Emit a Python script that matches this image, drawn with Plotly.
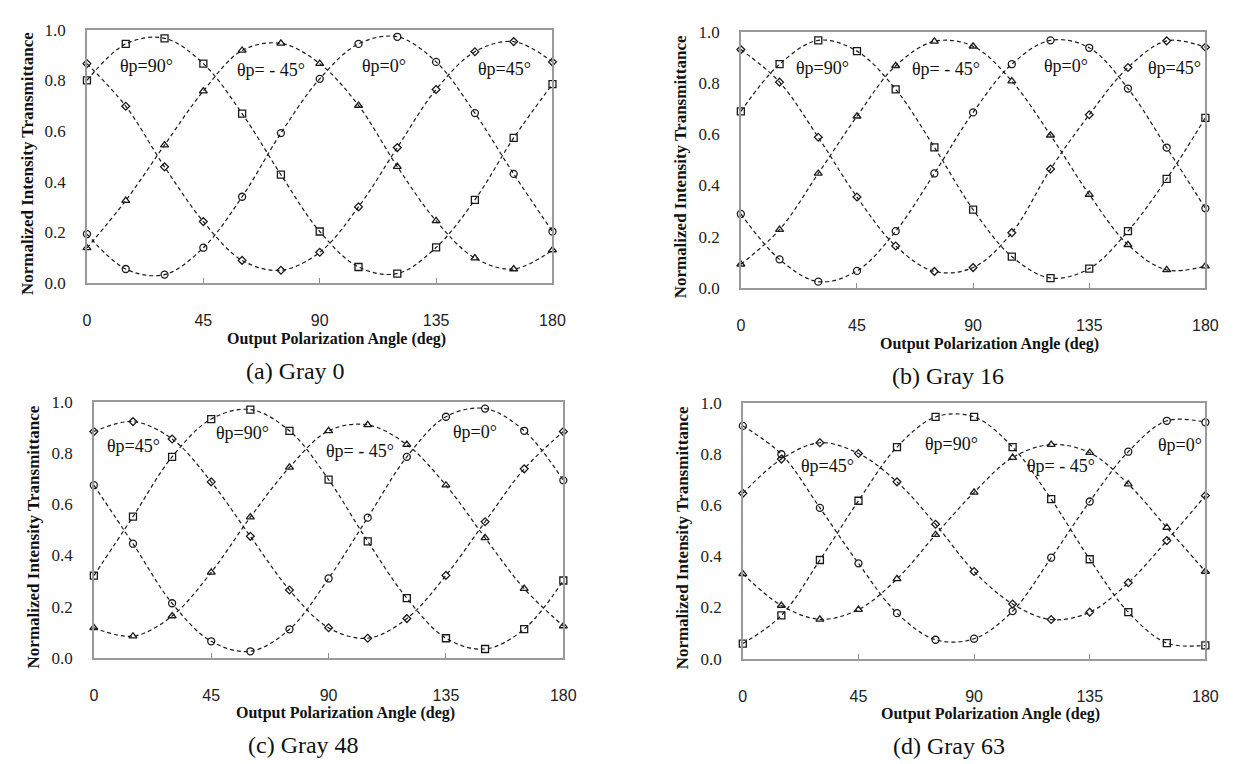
import plotly.graph_objects as go

W, H = 1237, 764

# ---------------- data ----------------
angles = [0, 15, 30, 45, 60, 75, 90, 105, 120, 135, 150, 165, 180]
x_ticks = [0, 45, 90, 135, 180]
y_ticks = [0.0, 0.2, 0.4, 0.6, 0.8, 1.0]

a_sq = [0.800, 0.944, 0.966, 0.866, 0.669, 0.428, 0.204, 0.064, 0.038, 0.141, 0.329, 0.573, 0.785]
a_ci = [0.194, 0.056, 0.034, 0.140, 0.341, 0.592, 0.806, 0.944, 0.972, 0.873, 0.671, 0.431, 0.204]
a_di = [0.866, 0.698, 0.459, 0.243, 0.090, 0.051, 0.122, 0.301, 0.535, 0.764, 0.913, 0.953, 0.873]
a_tr = [0.139, 0.326, 0.545, 0.758, 0.918, 0.946, 0.866, 0.701, 0.460, 0.246, 0.099, 0.056, 0.131]

b_sq = [0.689, 0.873, 0.966, 0.924, 0.775, 0.549, 0.306, 0.123, 0.039, 0.076, 0.222, 0.426, 0.664]
b_ci = [0.289, 0.112, 0.025, 0.067, 0.222, 0.447, 0.685, 0.873, 0.966, 0.937, 0.778, 0.548, 0.311]
b_di = [0.930, 0.803, 0.588, 0.355, 0.164, 0.065, 0.080, 0.216, 0.464, 0.676, 0.860, 0.964, 0.939]
b_tr = [0.093, 0.228, 0.447, 0.670, 0.867, 0.962, 0.943, 0.807, 0.596, 0.365, 0.169, 0.071, 0.086]

c_sq = [0.321, 0.552, 0.786, 0.934, 0.971, 0.888, 0.697, 0.455, 0.233, 0.076, 0.034, 0.112, 0.302]
c_ci = [0.675, 0.446, 0.213, 0.064, 0.025, 0.111, 0.310, 0.548, 0.786, 0.943, 0.975, 0.888, 0.694]
c_di = [0.885, 0.924, 0.856, 0.688, 0.475, 0.265, 0.117, 0.076, 0.153, 0.322, 0.532, 0.739, 0.885]
c_tr = [0.117, 0.084, 0.163, 0.334, 0.550, 0.745, 0.888, 0.911, 0.834, 0.675, 0.469, 0.270, 0.124]

d_sq = [0.059, 0.169, 0.386, 0.618, 0.828, 0.946, 0.946, 0.828, 0.624, 0.389, 0.182, 0.061, 0.052]
d_ci = [0.911, 0.800, 0.590, 0.373, 0.178, 0.074, 0.078, 0.186, 0.395, 0.615, 0.810, 0.931, 0.925]
d_di = [0.647, 0.781, 0.845, 0.803, 0.692, 0.526, 0.341, 0.214, 0.153, 0.182, 0.297, 0.462, 0.638]
d_tr = [0.332, 0.208, 0.154, 0.192, 0.312, 0.485, 0.651, 0.787, 0.838, 0.806, 0.683, 0.513, 0.341]

captions = ["(a) Gray 0", "(b) Gray 16", "(c) Gray 48", "(d) Gray 63"]
x_title = "Output Polarization Angle (deg)"
y_title = "Normalized Intensity Transmittance"

label_text = {
    "a": ["θp=90°", "θp= - 45°", "θp=0°", "θp=45°"],
    "b": ["θp=90°", "θp= - 45°", "θp=0°", "θp=45°"],
    "c": ["θp=45°", "θp=90°", "θp= - 45°", "θp=0°"],
    "d": ["θp=45°", "θp=90°", "θp= - 45°", "θp=0°"],
}
label_x = {
    "a": [23, 71, 115, 161.6],
    "b": [31.5, 79.5, 126, 168],
    "c": [15.3, 57, 102, 146],
    "d": [32.8, 81.4, 124, 170],
}
label_y = {
    "a": [0.855, 0.842, 0.857, 0.845],
    "b": [0.86, 0.854, 0.867, 0.86],
    "c": [0.83, 0.879, 0.81, 0.885],
    "d": [0.755, 0.842, 0.755, 0.838],
}

panels = {
    "a": [a_sq, a_ci, a_di, a_tr],
    "b": [b_sq, b_ci, b_di, b_tr],
    "c": [c_sq, c_ci, c_di, c_tr],
    "d": [d_sq, d_ci, d_di, d_tr],
}

# ---------------- layout (pixel boxes: left, right, top, bottom) ----------------
boxes = {
    "a": (76, 548, 13, 273),
    "b": (739, 1210, 15, 278),
    "c": (83, 559, 395, 657),
    "d": (741, 1210, 396, 658),
}
symbols = ["square-open", "circle-open", "diamond-open", "triangle-up-open"]
sizes = [7, 7, 6, 7]
INK = "#1a1a1a"
SERIF = "Liberation Serif"
SANS = "Liberation Sans"

fig = go.Figure()
annotations = []
layout_axes = {}

for i, key in enumerate(["a", "b", "c", "d"]):
    n = "" if i == 0 else str(i + 1)
    xref, yref = "x" + n, "y" + n
    L, R, T, B = boxes[key]
    for s, ys in enumerate(panels[key]):
        fig.add_trace(go.Scatter(
            x=angles, y=ys, xaxis=xref, yaxis=yref, mode="lines",
            line=dict(color=INK, width=1.2, dash="4px,3px", shape="spline", smoothing=1.0),
            hoverinfo="skip", showlegend=False))
        fig.add_trace(go.Scatter(
            x=angles, y=ys, xaxis=xref, yaxis=yref, mode="markers",
            marker=dict(symbol=symbols[s], size=sizes[s], color=INK, line=dict(color=INK, width=1.3)),
            cliponaxis=False, showlegend=False))

    layout_axes["xaxis" + n] = dict(
        domain=[L / W, R / W], anchor=yref, range=[0, 180],
        tickvals=x_ticks, ticktext=[str(v) for v in x_ticks],
        ticks="inside", ticklen=5, tickcolor="#8c8c8c", tickwidth=1,
        showgrid=False, zeroline=False, showline=True, linecolor="#9a9a9a", linewidth=1.5, mirror=True,
        tickfont=dict(family=SANS, size=16, color="#222"), ticklabelstandoff=22,
    )
    layout_axes["yaxis" + n] = dict(
        domain=[1 - B / H, 1 - T / H], anchor=xref, range=[0, 1.0],
        tickvals=y_ticks, tickformat=".1f", ticks="",
        showgrid=False, zeroline=False, showline=True, linecolor="#9a9a9a", linewidth=1.5, mirror=True,
        tickfont=dict(family=SERIF, size=17, color="#222"), ticklabelstandoff=16,
    )

    cx = (L + R) / 2
    annotations.append(dict(text="<b>" + x_title + "</b>", xref="paper", yref="paper",
                            x=(cx + 17) / W, y=1 - (B + 57) / H, xanchor="center", yanchor="middle",
                            showarrow=False, font=dict(family=SERIF, size=16, color="#111")))
    annotations.append(dict(text="<b>" + y_title + "</b>", xref="paper", yref="paper",
                            x=(L - 61) / W, y=1 - ((T + B) / 2 + 7) / H, xanchor="center", yanchor="middle",
                            textangle=-90, showarrow=False, font=dict(family=SERIF, size=17, color="#111")))
    annotations.append(dict(text=captions[i], xref="paper", yref="paper",
                            x=(cx - 25) / W, y=1 - (B + 90) / H, xanchor="center", yanchor="middle",
                            showarrow=False, font=dict(family=SERIF, size=24, color="#111")))
    for t, lx, ly in zip(label_text[key], label_x[key], label_y[key]):
        annotations.append(dict(text=t, xref=xref, yref=yref, x=lx, y=ly,
                                xanchor="center", yanchor="middle", showarrow=False,
                                font=dict(family=SERIF, size=18, color="#111")))

fig.update_layout(
    width=W, height=H, margin=dict(l=0, r=0, t=0, b=0),
    paper_bgcolor="white", plot_bgcolor="white",
    annotations=annotations, **layout_axes,
)

fig.write_html("out.html")
